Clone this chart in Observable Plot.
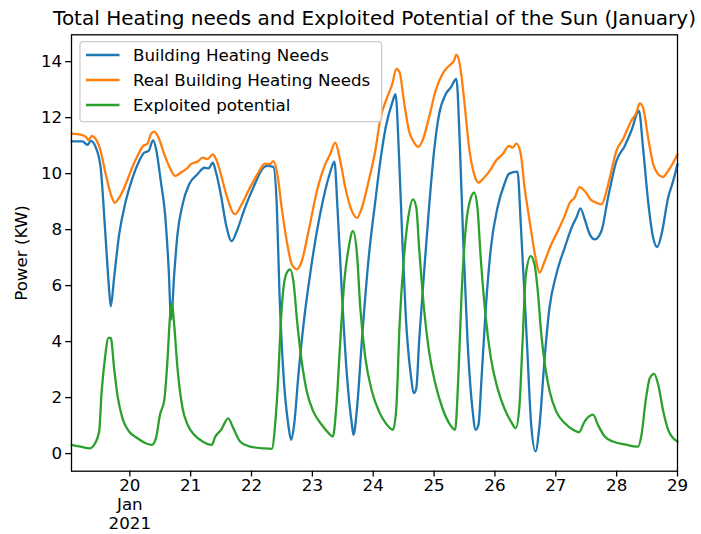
<!DOCTYPE html>
<html>
<head>
<meta charset="utf-8">
<script src="https://cdn.jsdelivr.net/npm/d3@7"></script>
<script src="https://cdn.jsdelivr.net/npm/@observablehq/plot@0.6"></script>
<style>
  html, body { margin: 0; padding: 0; background: white; }
  #chart { width: 701px; height: 534px; }
</style>
</head>
<body>
<div id="chart"></div>
<script>
// ---- Data (hours since 2021-01-19 00:00 UTC, value in kW) ----
const chartTitle = "Total Heating needs and Exploited Potential of the Sun (January)";
const yLabel = "Power (KW)";
const seriesNames = ["Building Heating Needs", "Real Building Heating Needs", "Exploited potential"];
const seriesColors = ["#1f77b4", "#ff7f0e", "#2ca02c"];
const yTicks = [0, 2, 4, 6, 8, 10, 12, 14];
const xTickDays = [20, 21, 22, 23, 24, 25, 26, 27, 28, 29];

const heatingNeeds = [[1,11.15],[5.3,11.15],[7.3,11.03],[8.6,11.17],[10.6,10.93],[12.5,10.21],[14.2,8.07],[15.6,6.16],[16.5,5.26],[17.8,6.28],[19.8,7.83],[22.4,9.02],[25.1,9.86],[27.7,10.45],[29.7,10.75],[31.4,10.81],[33.2,11.2],[34.5,10.81],[36.2,9.74],[37.9,8.55],[39.3,6.64],[40.3,4.79],[41.5,6.4],[42.8,7.83],[44.8,8.9],[47.4,9.62],[50.7,9.98],[53.4,10.21],[55.1,10.19],[56.7,10.39],[58,10.04],[60,9.2],[61.9,8.2],[64.2,7.59],[66.2,7.95],[69.4,8.78],[72.7,9.5],[76.7,10.21],[78,10.28],[80.6,10.24],[82,8.78],[83,5.8],[84.6,2.82],[86.5,1.03],[87.6,0.49],[88.8,1.03],[90.5,2.82],[92.5,4.61],[95.1,6.4],[97.8,7.95],[100.4,9.14],[103,10.04],[104.7,10.43],[105.9,8.78],[107.6,5.8],[109.6,2.82],[111.6,1.03],[112.2,0.67],[113.6,1.62],[115.5,4.01],[118.2,6.99],[120.8,9.0],[122.8,10.45],[124.9,11.65],[127.5,12.54],[128.8,12.84],[130.2,10.57],[131.5,7.59],[132.8,4.97],[134.8,2.82],[136.1,2.16],[137,2.34],[138.1,4.01],[140,6.4],[142,8.78],[144,10.81],[146,12.13],[148.6,12.84],[150.6,13.08],[152.8,13.38],[154.1,11.17],[155.5,7.59],[157.2,4.01],[159.1,1.62],[160.4,0.85],[161.5,1.03],[162.8,2.82],[164.4,5.2],[166.4,7.35],[169,8.78],[171.7,9.62],[173.6,10.0],[176.9,10.07],[178.2,8.19],[180.6,4.0],[182.3,1.03],[184,0.08],[185.6,1.03],[187.6,3.41],[189.5,5.2],[192.2,6.4],[195.5,7.35],[198.8,8.19],[200.1,8.42],[201.7,8.76],[203.4,8.37],[205.4,7.83],[207.4,7.65],[210,7.95],[212.6,9.14],[215.9,10.45],[219.2,10.99],[221.8,11.53],[224.8,12.24],[226.4,10.93],[228.4,9.02],[230.4,7.71],[232,7.38],[233.7,7.83],[236.3,9.14],[238.3,9.74],[240,10.34]];

const realHeatingNeeds = [[1,11.43],[4.6,11.39],[6.9,11.29],[7.7,11.2],[9,11.35],[10.6,11.23],[12.5,10.81],[14.5,9.98],[16.5,9.26],[18.1,8.96],[19.8,9.14],[22.1,9.56],[24.4,10.1],[27,10.63],[29.3,10.99],[31,11.07],[32.3,11.41],[33.6,11.5],[35.3,11.29],[37.6,10.69],[39.8,10.21],[41.9,9.92],[44.2,10.04],[46.8,10.21],[48.1,10.34],[50.8,10.43],[52.7,10.57],[54.7,10.52],[56.7,10.69],[58,10.52],[60,9.95],[61.9,9.3],[65.5,8.55],[68.1,8.9],[71.4,9.5],[74.7,10.04],[77.3,10.36],[79.3,10.34],[80.6,10.45],[82.2,9.98],[83.9,8.78],[85.9,7.59],[87.9,6.76],[89.9,6.58],[91.8,6.87],[94.5,7.95],[97.8,9.38],[101.1,10.34],[103,10.69],[105,11.11],[107,10.45],[109,9.5],[111.6,8.66],[113.6,8.42],[115.5,8.78],[118.2,9.74],[120.8,10.81],[122.9,12.0],[125.5,12.72],[127.5,13.2],[129.1,13.74],[130.4,13.62],[132.1,12.6],[134.1,11.53],[136.1,11.11],[137.8,10.96],[139.4,11.17],[142,12.0],[144.6,12.96],[147.3,13.56],[149.3,13.8],[150.8,13.92],[151.9,14.04],[152.8,14.25],[154.1,13.92],[155.9,12.6],[157.8,10.93],[159.8,9.98],[161.5,9.68],[163.8,9.86],[166.4,10.16],[168.3,10.45],[171,10.69],[173.6,10.99],[174.9,10.93],[176.5,11.07],[178.2,10.69],[179.7,9.5],[181,8.7],[182.2,8.0],[184,7.0],[185.6,6.46],[187.6,6.87],[190.2,7.47],[192.8,7.95],[195.5,8.49],[197.5,8.96],[199.4,9.14],[201.4,9.52],[203.4,9.38],[206,9.05],[208,8.96],[210,8.9],[212,9.38],[214.2,10.21],[215.9,10.81],[218.5,11.23],[221.8,11.89],[223.8,12.18],[225.1,12.51],[226.4,12.36],[228.4,11.29],[230.4,10.34],[232.4,9.98],[234.3,9.88],[236.3,10.1],[238.3,10.39],[240,10.69]];

const exploitedPotential = [[1,0.31],[4.6,0.25],[8.2,0.19],[10.3,0.37],[11.9,0.79],[12.9,2.22],[14.2,3.41],[15.6,4.13],[16.5,4.13],[17.8,3.05],[19.1,2.1],[21.1,1.26],[23.7,0.79],[27,0.55],[30.3,0.37],[32.7,0.31],[34.3,0.55],[35.9,1.39],[37.6,1.92],[38.9,3.41],[39.8,4.84],[40.6,5.38],[41.5,4.61],[42.8,3.05],[44.8,1.62],[46.8,1.03],[49.4,0.67],[52.7,0.43],[56.3,0.31],[57.7,0.6],[60,0.85],[62.8,1.26],[64.8,0.91],[67.5,0.43],[71.4,0.25],[76.7,0.19],[80,0.17],[81.3,1.03],[82.6,2.82],[83.5,4.61],[84.6,5.92],[85.9,6.46],[87.2,6.58],[88.5,6.16],[90.1,4.61],[91.8,3.29],[93.8,2.22],[96.4,1.5],[99.7,1.03],[102.4,0.73],[104.1,0.61],[105.4,1.62],[107,4.01],[108.6,6.16],[110.3,7.35],[112,7.95],[113.6,7.11],[114.9,5.2],[116.9,3.41],[119.5,2.22],[122.3,1.5],[124.9,1.09],[127.8,0.85],[129.1,1.62],[130.4,4.61],[132.1,6.99],[133.8,8.42],[135.7,9.08],[137,8.78],[138.1,7.35],[140,5.2],[142,3.65],[144.6,2.46],[147.3,1.62],[149.9,1.09],[152.3,0.85],[153.6,2.82],[154.9,5.8],[156.5,8.07],[158.5,9.14],[159.8,9.32],[161.1,8.78],[162.4,6.99],[164.4,4.84],[166.4,3.41],[169,2.34],[171.7,1.62],[174.3,1.15],[176.2,0.91],[177.6,1.62],[178.9,4.01],[180.2,6.4],[182.1,7.05],[183.6,6.76],[184.9,5.8],[186.3,4.25],[187.9,3.05],[189.6,2.22],[192.2,1.5],[195.5,1.09],[198.8,0.85],[201.1,0.76],[203.4,1.15],[206.7,1.39],[208.6,1.03],[211.3,0.61],[214.6,0.43],[219.2,0.33],[224.4,0.25],[225.8,0.67],[227.4,1.86],[229.1,2.7],[230.8,2.85],[232.4,2.46],[234.4,1.5],[236.3,0.85],[238.3,0.55],[240,0.43]];

// ---- Build table ----
const t0 = Date.UTC(2021, 0, 19);
const toDate = h => new Date(t0 + h * 3600 * 1000);
const seriesData = [heatingNeeds, realHeatingNeeds, exploitedPotential];
const records = seriesData.flatMap((arr, i) =>
  arr.map(([h, v]) => ({ time: toDate(h), value: v, series: seriesNames[i] })));

const allVals = records.map(d => d.value);
const [vmin, vmax] = d3.extent(allVals);
const pad = (vmax - vmin) * 0.05;
const xDomain = d3.extent(records, d => d.time);
const xTicks = xTickDays.map(d => new Date(Date.UTC(2021, 0, d)));
const fmt = d => d.getUTCDate() === 20 ? "20\nJan\n2021" : String(d.getUTCDate());

const FONT = "DejaVu Sans, sans-serif";
const FS = 16.7;

const chart = Plot.plot({
  width: 701,
  height: 534,
  marginLeft: 71,
  marginRight: 24,
  marginTop: 34.3,
  marginBottom: 63.3,
  style: { fontFamily: FONT, fontSize: FS + "px", color: "black", background: "white", overflow: "visible" },
  x: { type: "utc", domain: xDomain },
  y: { domain: [vmin - pad, vmax + pad] },
  color: { domain: seriesNames, range: seriesColors },
  marks: [
    Plot.lineY(records, { x: "time", y: "value", z: "series", stroke: "series", strokeWidth: 2.3, curve: "monotone-x" }),
    Plot.frame({ stroke: "black", strokeWidth: 1.3 }),
    Plot.axisX({ ticks: xTicks, tickFormat: fmt, tickSize: 5.8, tickPadding: 0, lineHeight: 1.15, label: null, fontSize: FS, strokeWidth: 1.3 }),
    Plot.axisY({ ticks: yTicks, tickSize: 5.8, tickPadding: 3.5, fontSize: FS, strokeWidth: 1.3,
                 label: yLabel, labelAnchor: "center", labelArrow: "none", labelOffset: 56 }),
    Plot.text([chartTitle], { text: d => d, frameAnchor: "top", lineAnchor: "bottom", dy: -9.5, fontSize: 20 })
  ]
});

document.getElementById("chart").appendChild(chart);

// ---- Legend (matplotlib style, upper left inside axes) ----
const svg = d3.select(chart);
const lg = svg.append("g").attr("font-family", FONT).attr("font-size", FS).attr("text-anchor", "start");
lg.append("rect").attr("x", 80).attr("y", 41.7).attr("width", 301.7).attr("height", 80)
  .attr("rx", 3.3).attr("fill", "white").attr("fill-opacity", 0.8).attr("stroke", "#cccccc").attr("stroke-width", 1.3);
seriesNames.forEach((name, i) => {
  const cy = 55 + i * 25;
  lg.append("line").attr("x1", 86).attr("x2", 119.5).attr("y1", cy).attr("y2", cy)
    .attr("stroke", seriesColors[i]).attr("stroke-width", 2.3);
  lg.append("text").attr("x", 133).attr("y", cy).attr("dy", "0.35em")
    .attr("text-anchor", "start").attr("fill", "black").text(name);
});
</script>
</body>
</html>
